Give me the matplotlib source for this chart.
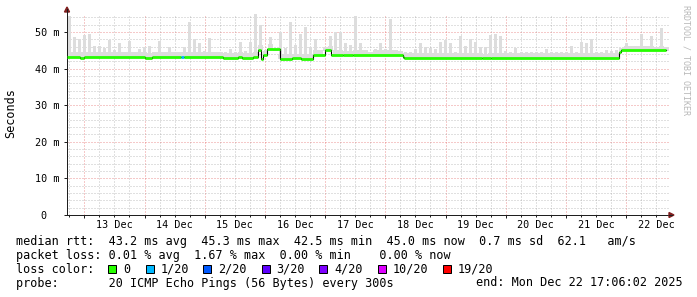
import numpy as np
import matplotlib
matplotlib.use("Agg")
import matplotlib.pyplot as plt
from matplotlib.patches import Rectangle, Polygon
from matplotlib.lines import Line2D

plt.rcParams['font.family'] = ['DejaVu Sans Mono']

W, H = 697, 297

# time axis in "day of December 2025", graph spans 10 days ending Dec 22 17:06
t_start = 12.7125
t_end = 22.7125
day_ticks = [13, 14, 15, 16, 17, 18, 19, 20, 21, 22]
day_labels = ["13 Dec", "14 Dec", "15 Dec", "16 Dec", "17 Dec",
              "18 Dec", "19 Dec", "20 Dec", "21 Dec", "22 Dec"]

# smoke: top of ping spread per 2-hour slot (ms)
smoke_step = 1 / 12
smoke_top = [
    54.3, 48.6, 48.2, 49.1, 49.5, 46.1, 46.1, 45.5, 47.9, 45.0,
    47.0, 44.5, 47.6, 44.5, 45.3, 45.8, 46.1, 44.5, 47.6, 44.5,
    45.8, 44.6, 44.5, 45.8, 52.7, 48.0, 47.1, 44.8, 48.3, 44.5,
    44.5, 44.6, 45.3, 44.6, 47.4, 44.8, 47.4, 55.0, 52.0, 45.0,
    48.5, 44.8, 50.0, 45.5, 52.7, 46.5, 49.4, 51.5, 46.0, 48.2,
    45.0, 46.0, 48.8, 50.0, 50.0, 47.0, 46.5, 54.5, 47.0, 45.1,
    44.6, 45.4, 47.0, 45.3, 53.6, 45.0, 44.8, 44.5, 44.5, 45.3,
    46.9, 46.0, 45.5, 45.3, 47.4, 47.8, 46.9, 44.6, 48.8, 46.3,
    48.2, 47.4, 45.8, 45.8, 49.2, 49.4, 48.8, 44.8, 44.6, 45.6,
    44.6, 44.6, 44.6, 44.5, 44.6, 45.3, 44.6, 44.4, 44.4, 44.6,
    46.1, 44.6, 47.4, 46.9, 48.2, 44.6, 44.4, 45.0, 44.7, 45.0,
    45.5, 47.0, 46.3, 46.3, 49.5, 46.3, 48.8, 46.0, 51.1, 46.0,
]

# median rtt as step segments (ms) and packet loss per segment (of 20)
med_edges = [12.7125, 12.93, 12.99, 14.01, 14.12, 14.605, 14.655, 15.30, 15.55,
             15.62, 15.80, 15.886, 15.935, 15.968, 16.035, 16.251, 16.45, 16.60,
             16.799, 16.998, 17.098, 17.30, 17.47, 18.294, 18.31, 19.60, 19.75,
             21.882, 21.915, 22.66]
med_vals = [43.2, 43.0, 43.2, 43.0, 43.2, 43.2, 43.2, 43.0, 43.2, 42.9, 43.2,
            45.2, 42.6, 43.6, 45.3, 42.7, 42.8, 42.7, 43.8, 45.0, 43.8, 43.6,
            43.8, 43.3, 42.9, 42.8, 42.9, 44.4, 45.0]
med_loss = [0, 0, 0, 0, 0, 1, 0, 0, 0, 0, 0, 0, 0, 0, 0, 0, 0, 0, 0, 0, 0, 0,
            0, 0, 0, 0, 0, 0, 0]

loss_keys = [0, 1, 2, 3, 4, 10, 19]
loss_names = ["0", "1/20", "2/20", "3/20", "4/20", "10/20", "19/20"]
loss_colors = ["#26ff00", "#00b8ff", "#0059ff", "#5e00ff", "#7e00ff", "#dd00ff", "#ff0000"]

legend_lines = [
    "median rtt:  43.2 ms avg  45.3 ms max  42.5 ms min  45.0 ms now  0.7 ms sd  62.1   am/s",
    "packet loss: 0.01 % avg  1.67 % max  0.00 % min    0.00 % now",
    "loss color:",
    "probe:       20 ICMP Echo Pings (56 Bytes) every 300s",
]
end_text = "end: Mon Dec 22 17:06:02 2025"


def fx(px):
    return px / W


def fy(py):
    return 1 - py / H


fig = plt.figure(figsize=(W / 100, H / 100), dpi=100)
fig.patch.set_facecolor("white")
ax_l, ax_r, ax_t, ax_b = 67, 669, 13.7, 215
ax = fig.add_axes([fx(ax_l), fy(ax_b), (ax_r - ax_l) / W, (ax_b - ax_t) / H])
ax.set_facecolor("white")
ax.set_xlim(t_start, t_end)
ax.set_ylim(0, 55)

# smoke: a continuous low band plus thinner spikes
edges = np.array(med_edges)
vals = np.array(med_vals)
bins = t_start + smoke_step * np.arange(len(smoke_top))
centers = bins + smoke_step / 2
idx = np.clip(np.searchsorted(edges, centers, side="right") - 1, 0, len(vals) - 1)
bottoms = vals[idx] - 0.2
tops = np.array(smoke_top)
band = np.minimum(tops, vals[idx] + 1.3)
ax.bar(bins, band - bottoms, bottom=bottoms, width=smoke_step, align="edge",
       color="#dddddd", linewidth=0, zorder=2)
ax.bar(centers, tops - band, bottom=band, width=smoke_step * 0.6, align="center",
       color="#dddddd", linewidth=0, zorder=2)

# median: thin black step, then loss-coloured segments
ax.step(med_edges, med_vals + [med_vals[-1]], where="post", color="black", lw=0.8, zorder=3)
seg_colors = [loss_colors[loss_keys.index(l)] for l in med_loss]
ax.hlines(med_vals, med_edges[:-1], med_edges[1:], colors=seg_colors, lw=2.0,
          zorder=4, capstyle="butt")

# grid
ax.set_xticks(day_ticks)
ax.set_xticks(np.arange(12.75, 22.75, 0.25), minor=True)
ax.set_yticks(range(0, 51, 10))
ax.set_yticks(range(0, 55, 2), minor=True)
ax.set_xticklabels([])
ax.set_yticklabels(["0  ", "10 m", "20 m", "30 m", "40 m", "50 m"], fontsize=7.3)
ax.grid(which="minor", color=(0.56, 0.56, 0.56), alpha=0.55, lw=0.72, dashes=(1, 2))
ax.grid(which="major", color=(0.87, 0.31, 0.31), alpha=0.6, lw=0.72, dashes=(1, 2))
ax.set_axisbelow(True)
ax.tick_params(which="major", length=2.2, width=0.72, color="#1f1f1f", pad=3)
ax.tick_params(which="minor", length=1.2, width=0.72, color="#1f1f1f")
ax.tick_params(axis="y", which="minor", length=0)
for d, lab in zip(day_ticks, day_labels):
    ax.annotate(lab, (d + 0.5, 0), xycoords=("data", "axes fraction"),
                xytext=(0, -7.4), textcoords="offset points",
                ha="center", va="center", fontsize=7.3)

for s in ["top", "right"]:
    ax.spines[s].set_visible(False)
for s in ["left", "bottom"]:
    ax.spines[s].set_color("#1f1f1f")
    ax.spines[s].set_linewidth(0.72)

# axis arrows
arrow_col = "#801f1f"
fig.add_artist(Line2D([fx(67), fx(67)], [fy(ax_t), fy(9)], color="#1f1f1f", lw=0.72))
fig.add_artist(Line2D([fx(ax_r), fx(672)], [fy(215), fy(215)], color="#1f1f1f", lw=0.72))
fig.add_artist(Polygon([(fx(64.5), fy(12)), (fx(69.5), fy(12)), (fx(67), fy(7))],
                       closed=True, color=arrow_col, transform=fig.transFigure))
fig.add_artist(Polygon([(fx(669), fy(212.5)), (fx(669), fy(217.5)), (fx(674), fy(215))],
                       closed=True, color=arrow_col, transform=fig.transFigure))

# labels
fig.text(fx(11), fy(113), "Seconds", rotation=90, ha="center", va="center", fontsize=8.5)
fig.text(fx(686), fy(60), "RRDTOOL / TOBI OETIKER", rotation=270, ha="center",
         va="center", fontsize=6, color="#b8b8b8")

# legend text
line_y = [241.5, 255.3, 269.1, 283.0]
for txt, y in zip(legend_lines, line_y):
    fig.text(fx(16), fy(y), txt, ha="left", va="center", fontsize=8.5)
fig.text(fx(683), fy(line_y[3]), end_text, ha="right", va="center", fontsize=8.5)

box_x = [108, 145.5, 203, 261.5, 319, 378, 442.5]
for bx, col, name in zip(box_x, loss_colors, loss_names):
    fig.add_artist(Rectangle((fx(bx), fy(273)), 8 / W, 8 / H, facecolor=col,
                             edgecolor="black", lw=0.72, transform=fig.transFigure))
    fig.text(fx(bx + 15), fy(line_y[2]), name, ha="left", va="center", fontsize=8.5)

fig.savefig("out.png", dpi=100)
